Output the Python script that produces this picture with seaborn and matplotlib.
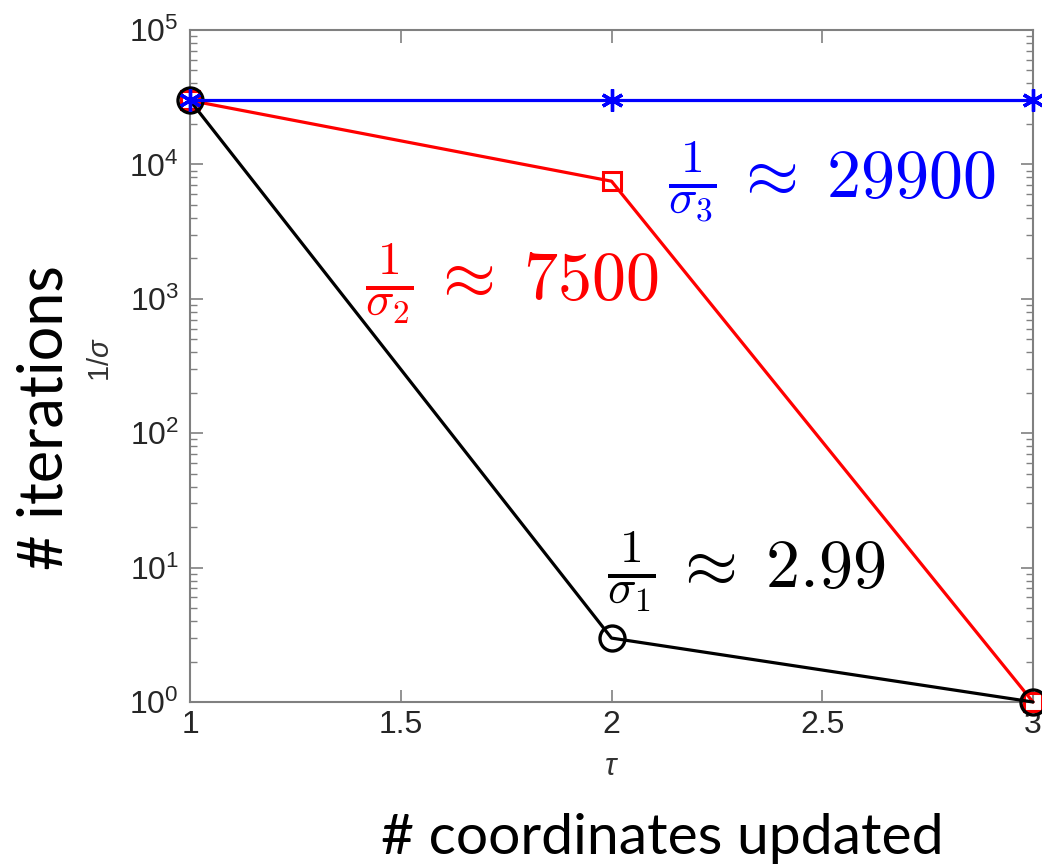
import numpy as np
import pandas as pd
import matplotlib
matplotlib.use("Agg")
import matplotlib.pyplot as plt
import matplotlib.ticker as mticker
import seaborn as sns

# ---- data ----
tau = [1, 2, 3]
inv_sigma_1 = [29900, 2.99, 1]
inv_sigma_2 = [29900, 7500, 1]
inv_sigma_3 = [29900, 29900, 29900]
xticks = [1, 1.5, 2, 2.5, 3]
xticklabels = ["1", "1.5", "2", "2.5", "3"]
yticks = [1, 10, 100, 1000, 10000, 100000]
yticklabels = ["0", "1", "2", "3", "4", "5"]

sns.set_theme(style="white")
plt.rcParams['font.family'] = ['Liberation Sans', 'DejaVu Sans']
plt.rcParams['mathtext.fontset'] = 'custom'
plt.rcParams['mathtext.rm'] = 'Liberation Sans'
plt.rcParams['mathtext.it'] = 'Liberation Sans:italic'
plt.rcParams['mathtext.bf'] = 'Liberation Sans:bold'

fig = plt.figure(figsize=(10.42, 8.67), dpi=100)
ax = fig.add_axes([190/1042, 1-702/867, (1033-190)/1042, (702-30)/867])

lw = 2.3
sns.lineplot(x=tau, y=inv_sigma_2, ax=ax, color='#ff0000', lw=lw, marker='s',
             markersize=13, markerfacecolor='none', markeredgecolor='#ff0000',
             markeredgewidth=2.2, clip_on=False, zorder=3)
sns.lineplot(x=tau, y=inv_sigma_1, ax=ax, color='black', lw=lw, marker='o',
             markersize=18, markerfacecolor='none', markeredgecolor='black',
             markeredgewidth=2.4, clip_on=False, zorder=4)
sns.lineplot(x=tau, y=inv_sigma_3, ax=ax, color='#0000ff', lw=lw, marker=(6, 2, 0),
             markersize=16, markeredgecolor='#0000ff', markeredgewidth=2.4,
             clip_on=False, zorder=5)

ax.set_yscale('log')
ax.set_xlim(1, 3)
ax.set_ylim(1, 1e5)
ax.set_xticks(xticks)
ax.set_xticklabels(xticklabels)
ax.set_yticks(yticks)
ax.set_yticklabels([r'$10^{%s}$' % s for s in yticklabels])
ax.yaxis.set_minor_locator(mticker.LogLocator(base=10, subs=np.arange(2, 10), numticks=20))
ax.yaxis.set_minor_formatter(mticker.NullFormatter())

for s in ax.spines.values():
    s.set_color('#808080')
    s.set_linewidth(1.5)

ax.tick_params(axis='both', which='major', direction='in', length=9, width=1.2,
               color='#808080', labelcolor='#262626', labelsize=23,
               top=True, right=True, left=True, bottom=True)
ax.tick_params(axis='y', which='minor', direction='in', length=5, width=1.0,
               color='#808080', left=True, right=True)
ax.tick_params(axis='x', pad=6)
ax.tick_params(axis='y', pad=8)

ax.set_ylabel(r'1/$\sigma$', fontsize=21, color='#333333')
ax.yaxis.set_label_coords(-0.089, 0.509)
ax.set_xlabel(r'$\tau$', fontsize=22, color='#333333')
ax.xaxis.set_label_coords(0.5, -0.074)

# annotations
ax.text(2.134, 5720, r'$\frac{1}{\sigma_3}\,\approx\;29900$', color='#0000ff',
        fontsize=49, ha='left', va='baseline', math_fontfamily='cm')
ax.text(1.415, 979, r'$\frac{1}{\sigma_2}\,\approx\;7500$', color='#ff0000',
        fontsize=49, ha='left', va='baseline', math_fontfamily='cm')
ax.text(1.989, 7.05, r'$\frac{1}{\sigma_1}\,\approx\;2.99$', color='black',
        fontsize=49, ha='left', va='baseline', math_fontfamily='cm')

# outer labels
fig.text(45/1042, 1-418/867, '# iterations', rotation=90, fontsize=44,
         family=['Lato', 'DejaVu Sans'], ha='center', va='center', color='black')
fig.text(662/1042, 1-838/867, '# coordinates updated', fontsize=41,
         family=['Lato', 'DejaVu Sans'], ha='center', va='center', color='black')

fig.savefig('out.png', dpi=100)
